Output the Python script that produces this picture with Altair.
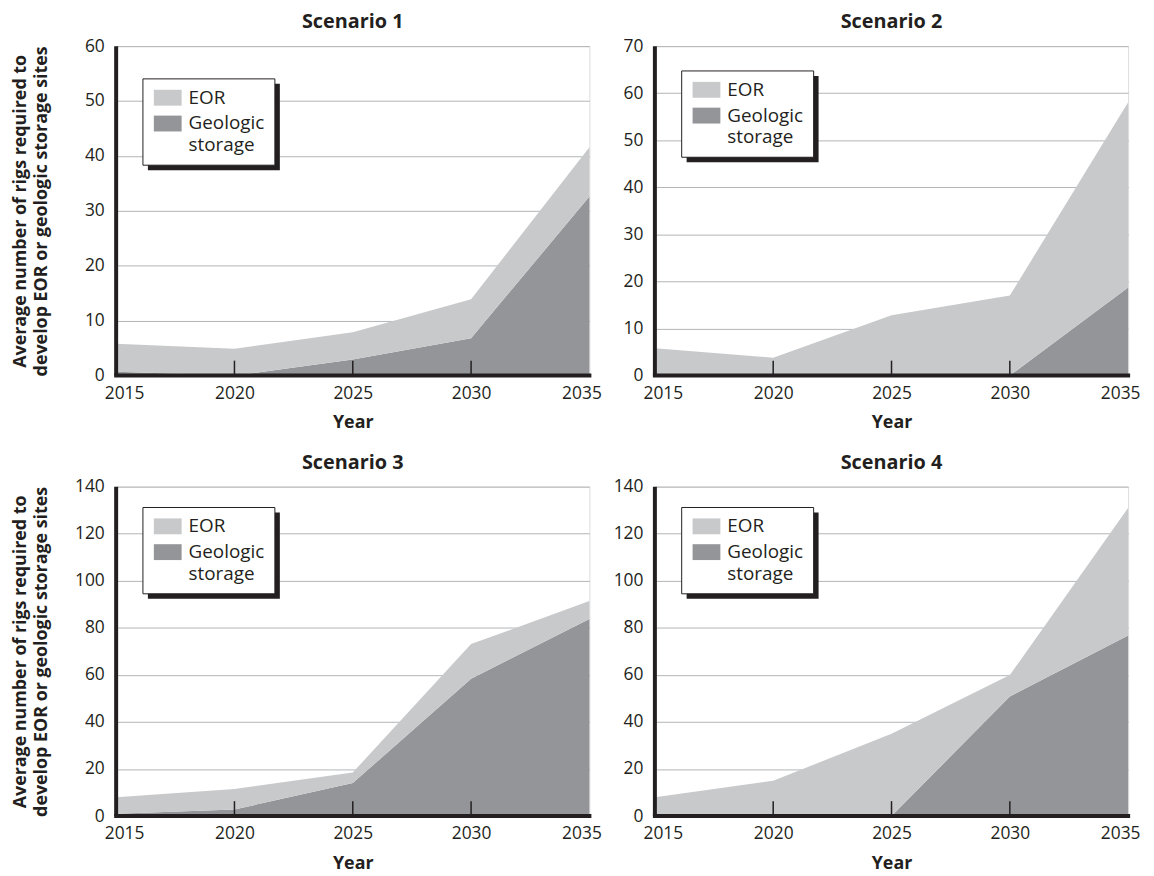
import altair as alt
import pandas as pd

# ---------------- data ----------------
years = [2015, 2020, 2025, 2030, 2035]
series_names = ["EOR", "Geologic storage"]
series_colors = ["#c8c9cb", "#939598"]
scenario_titles = ["Scenario 1", "Scenario 2", "Scenario 3", "Scenario 4"]

# EOR values are the layer stacked on top of geologic storage
eor_s1 = [5.1, 4.9, 5.0, 7.1, 9.0]
geo_s1 = [0.7, 0.0, 2.9, 6.8, 32.6]
eor_s2 = [5.8, 3.8, 12.8, 17.0, 39.4]
geo_s2 = [0.0, 0.0, 0.0, 0.0, 18.7]
eor_s3 = [7.0, 8.7, 4.5, 14.7, 7.7]
geo_s3 = [1.0, 2.8, 14.0, 58.4, 83.7]
eor_s4 = [8.0, 15.0, 35.0, 9.1, 54.3]
geo_s4 = [0.0, 0.0, 0.0, 50.8, 76.7]

y_max = [60, 70, 140, 140]
y_step = [10, 10, 20, 20]
inner_tick_years = [2020, 2025, 2030]
y_title = ["Average number of rigs required to", "develop EOR or geologic storage sites"]
x_title = "Year"

# ---------------- style ----------------
DARK = "#231f20"
GRID = "#b2b4b6"
FONT = "Open Sans"
W, H = 477, 332
legend_top = [33, 25, 21, 21]
LEG_L, LEG_R, LEG_H = 27, 160, 87


def panel(k, eor, geo):
    rows = []
    for yr, e, g in zip(years, eor, geo):
        rows.append({"year": yr, "series": series_names[1], "value": g, "stack_order": 0})
        rows.append({"year": yr, "series": series_names[0], "value": e, "stack_order": 1})
    df = pd.DataFrame(rows)
    ymax = y_max[k]
    grid_vals = list(range(0, ymax + 1, y_step[k]))
    xscale = alt.Scale(domain=[years[0], years[-1]], nice=False, zero=False)
    yscale = alt.Scale(domain=[0, ymax], nice=False)

    yaxis_kw = dict(values=grid_vals, grid=True, gridColor=GRID, gridWidth=1,
                    domain=False, ticks=False, tickSize=0, labelPadding=12,
                    labelFontSize=17.5, labelColor=DARK, labelFont=FONT)
    if k % 2 == 0:
        yaxis_kw.update(title=y_title, titleFontSize=18, titleFontWeight="bold",
                        titleColor=DARK, titleFont=FONT, titleLineHeight=21,
                        titleAngle=270, titleBaseline="bottom", titleAlign="center",
                        titleX=-87, titleY=H / 2)
    else:
        yaxis_kw.update(title=None)
    yaxis = alt.Axis(**yaxis_kw)

    xaxis = alt.Axis(values=years, format="d", grid=False, domain=False, ticks=False,
                     tickSize=0, labelPadding=9, labelFlush=True, labelFlushOffset=12,
                     labelFontSize=17.5, labelColor=DARK, labelFont=FONT,
                     title=x_title, titleFontSize=18, titleFontWeight="bold",
                     titleColor=DARK, titleFont=FONT, titlePadding=12)

    area = alt.Chart(df).mark_area(interpolate="linear").encode(
        x=alt.X("year:Q", scale=xscale, axis=xaxis),
        y=alt.Y("value:Q", stack="zero", scale=yscale, axis=yaxis),
        color=alt.Color("series:N", scale=alt.Scale(domain=series_names, range=series_colors),
                        legend=None),
        order=alt.Order("stack_order:Q"),
    )

    ticks = alt.Chart(pd.DataFrame({"year": inner_tick_years})).mark_rule(
        color=DARK, strokeWidth=1.5
    ).encode(x=alt.X("year:Q", scale=xscale, axis=xaxis), y=alt.value(H), y2=alt.value(H - 15))

    one = pd.DataFrame({"k": [0]})
    left_line = alt.Chart(one).mark_rule(color=DARK, strokeWidth=4).encode(
        x=alt.XDatum(years[0], scale=xscale, axis=xaxis),
        y=alt.YDatum(0, scale=yscale, axis=yaxis), y2=alt.datum(ymax))
    bottom_line = alt.Chart(one).mark_rule(color=DARK, strokeWidth=4, strokeCap="square").encode(
        y=alt.YDatum(0, scale=yscale, axis=yaxis),
        x=alt.XDatum(years[0], scale=xscale, axis=xaxis), x2=alt.datum(years[-1]))

    T = legend_top[k]
    B = T + LEG_H
    shadow = alt.Chart(one).mark_rect(color=DARK).encode(
        x=alt.value(LEG_L + 5), x2=alt.value(LEG_R + 5), y=alt.value(T + 5), y2=alt.value(B + 5))
    box = alt.Chart(one).mark_rect(fill="white", stroke=DARK, strokeWidth=1).encode(
        x=alt.value(LEG_L), x2=alt.value(LEG_R), y=alt.value(T), y2=alt.value(B))
    items = []
    for j, (name, col) in enumerate(zip(series_names, series_colors)):
        sy = T + 11 + 26 * j
        items.append(alt.Chart(one).mark_rect(color=col).encode(
            x=alt.value(LEG_L + 11), x2=alt.value(LEG_L + 39),
            y=alt.value(sy), y2=alt.value(sy + 16)))
        lines = name.split(" ")
        items.append(alt.Chart(one).mark_text(
            align="left", baseline="middle", fontSize=19, color=DARK,
            lineHeight=22, font=FONT
        ).encode(x=alt.value(LEG_L + 46), y=alt.value(sy + 8), text=alt.value(lines)))

    return alt.layer(area, ticks, left_line, bottom_line, shadow, box, *items).properties(
        width=W, height=H,
        title=alt.TitleParams(text=scenario_titles[k], fontSize=20, fontWeight="bold",
                              anchor="middle", frame="group", baseline="alphabetic",
                              offset=-11, color=DARK, font=FONT),
    )


charts = [
    panel(0, eor_s1, geo_s1),
    panel(1, eor_s2, geo_s2),
    panel(2, eor_s3, geo_s3),
    panel(3, eor_s4, geo_s4),
]

chart = alt.concat(
    *charts, columns=2, spacing={"row": 112, "column": 66}, bounds="flush"
).properties(
    padding={"left": 3, "top": 0, "right": 5, "bottom": 2}
).configure_view(
    stroke=DARK, strokeWidth=1.5
).configure(font=FONT)

chart.save("out.html", embed_options={"renderer": "svg", "actions": False})
